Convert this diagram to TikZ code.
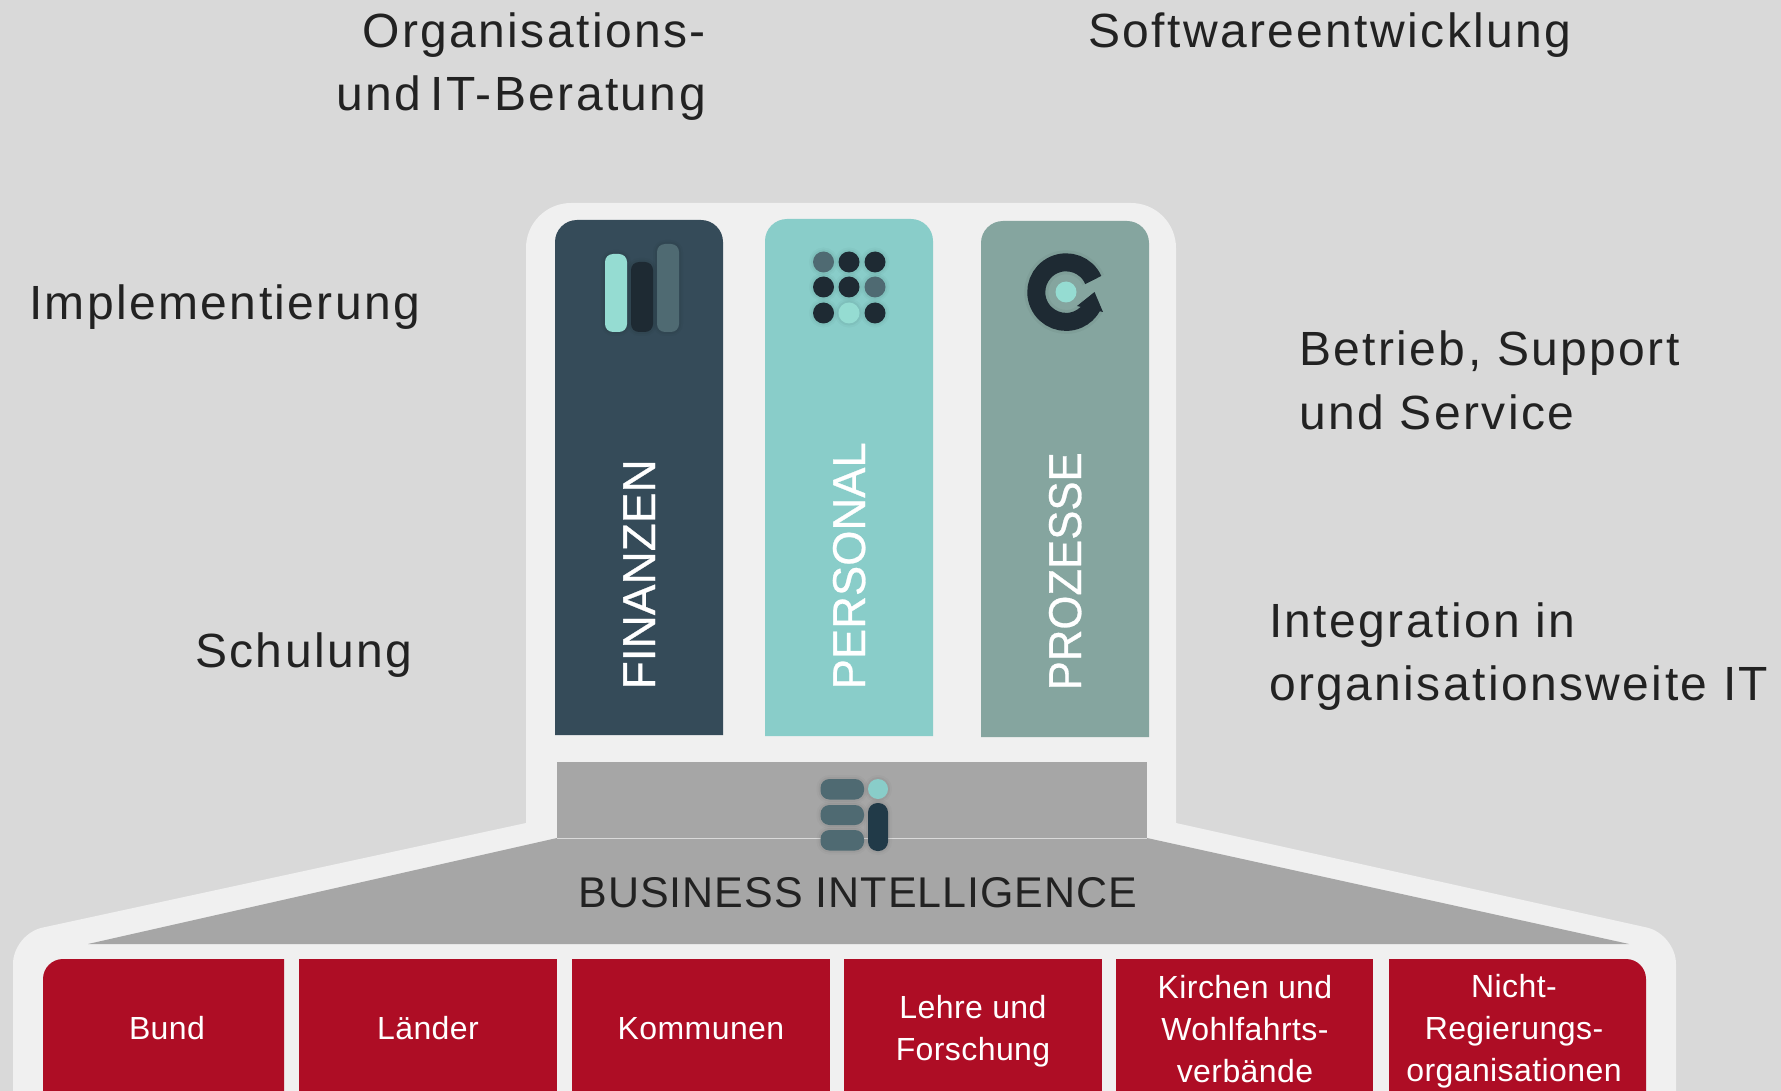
\documentclass[tikz,border=0pt]{standalone}
\usepackage{fontspec}
\setmainfont{Liberation Sans}
\newfontfamily\lblfont[LetterSpace=5]{Liberation Sans}
\newfontfamily\boxfont[LetterSpace=1.3]{Liberation Sans}
\newfontfamily\bifont[LetterSpace=2.3]{Liberation Sans}
\newfontfamily\colfont[FakeBold=0.6]{Liberation Sans}
\definecolor{bgc}{HTML}{D9D9D9}
\definecolor{panelc}{HTML}{F0F0F0}
\definecolor{greyc}{HTML}{A6A6A6}
\definecolor{redc}{HTML}{AE0D25}
\definecolor{finc}{HTML}{354B59}
\definecolor{perc}{HTML}{89CDC9}
\definecolor{proc}{HTML}{85A59F}
\definecolor{mintc}{HTML}{95DCD2}
\definecolor{darkc}{HTML}{1E2A33}
\definecolor{midc}{HTML}{4F6A72}
\definecolor{navyc}{HTML}{213A48}
\definecolor{txtc}{HTML}{222222}
\tikzset{
 lbl/.style={text=txtc,inner sep=0pt,font=\fontsize{48}{63.5}\selectfont\lblfont},
 boxlbl/.style={text=white,inner sep=0pt,align=center,font=\fontsize{32}{42}\selectfont\boxfont},
 collbl/.style={text=white,inner sep=0pt,rotate=90,anchor=base west,font=\fontsize{46}{46}\selectfont\colfont},
 soft/.style={preaction={draw=black,draw opacity=.025,line width=8pt},preaction={draw=black,draw opacity=.04,line width=4pt}},
}
\begin{document}
\begin{tikzpicture}[x=1pt,y=-1pt]
\useasboundingbox (0,0) rectangle (1781,1091);
\fill[bgc] (0,0) rectangle (1781,1091);
% white panel
\fill[panelc] (13,1091) [rounded corners=30pt] -- (13,934) [sharp corners] -- (526,823) [rounded corners=45pt] -- (526,203) -- (1176,203) [sharp corners] -- (1176,823) [rounded corners=30pt] -- (1676,934) [sharp corners] -- (1676,1091) -- cycle;
% grey
\fill[greyc] (557,762) rectangle (1147,838);
\fill[greyc] (557,838) -- (1147,838) -- (1629,944) -- (88,944) -- cycle;
\draw[panelc!70!greyc,line width=.8pt] (557,838) -- (1147,838);
% columns
\fill[finc] (555,735) [rounded corners=22pt] -- (555,220) -- (723,220) [sharp corners] -- (723,735) -- cycle;
\fill[perc] (765,736) [rounded corners=22pt] -- (765,219) -- (933,219) [sharp corners] -- (933,736) -- cycle;
\fill[proc] (981,737) [rounded corners=22pt] -- (981,221) -- (1149,221) [sharp corners] -- (1149,737) -- cycle;
\node[collbl] (fin) at (655,689.5) {\scalebox{1}[1]{FINANZEN}};
\node[collbl] (per) at (865,689.5) {\scalebox{.986}[1]{PERSONAL}};
\node[collbl] (pro) at (1081,690.5) {\scalebox{.95}[1]{PROZESSE}};
% finanzen icon
\fill[midc,soft,rounded corners=8pt] (657,244) rectangle (679,332);
\fill[darkc,soft,rounded corners=8pt] (631,262) rectangle (653,332);
\fill[mintc,soft,rounded corners=8pt] (605,254) rectangle (627,332);
% personal icon
\foreach \x/\y/\c in {823.5/262/midc,849/262/darkc,875/262/darkc,823.5/287/darkc,849/287/darkc,875/287/midc,823.5/313/darkc,849/313/mintc,875/313/darkc}
  \fill[\c,soft] (\x,\y) circle[radius=10.5];
% prozesse icon
\draw[darkc,line width=18pt,preaction={draw=black,draw opacity=.04,line width=24pt}] (1066+27.3,292-12) arc[start angle=-24,end angle=-332,radius=29.8];
\fill[darkc] (1094.5,292) -- (1103,312) -- (1077,306) -- cycle;
\fill[mintc] (1066,292) circle[radius=10.5];
% BI icon
\fill[midc,soft,rounded corners=9pt] (820.5,779) rectangle (864,799.5);
\fill[midc,soft,rounded corners=9pt] (820.5,805) rectangle (864,825);
\fill[midc,soft,rounded corners=9pt] (820.5,830) rectangle (864,850.5);
\fill[perc,soft] (878,789) circle[radius=10];
\fill[navyc,soft,rounded corners=9.5pt] (868,803) rectangle (888,851);
\node[text=txtc,inner sep=0pt,anchor=base,font=\fontsize{43}{43}\selectfont\bifont] (bi) at (858,907) {BUSINESS INTELLIGENCE};
% red boxes
\fill[redc] (284,1091) -- (284,959) [rounded corners=20pt] -- (43,959) [sharp corners] -- (43,1091) -- cycle;
\fill[redc] (299,959) rectangle (557,1091);
\fill[redc] (572,959) rectangle (830,1091);
\fill[redc] (844,959) rectangle (1102,1091);
\fill[redc] (1116,959) rectangle (1373,1091);
\fill[redc] (1389,1091) -- (1389,959) [rounded corners=20pt] -- (1646,959) [sharp corners] -- (1646,1091) -- cycle;
\node[boxlbl] (b1) at (167,1028) {Bund};
\node[boxlbl] (b2) at (428,1028) {Länder};
\node[boxlbl] (b3) at (701,1029) {Kommunen};
\node[boxlbl] (b4) at (973,1031.5) {Lehre und\\Forschung};
\node[boxlbl] (b5) at (1245,1029) {Kirchen und\\Wohlfahrts-\\verbände};
\node[boxlbl] (b6) at (1514,1031.5) {Nicht-\\Regierungs-\\organisationen};
% outer labels
\node[lbl,align=right,anchor=east] (l1) at (706,66.5) {Organisations-\\und\hspace{-6pt} IT-Beratung};
\node[lbl,anchor=west] (l2) at (1088,35) {Softwareentwicklung};
\node[lbl,anchor=west] (l3) at (29,307.5) {Implementierung};
\node[lbl,anchor=west] (l4) at (195,655.5) {Schulung};
\node[lbl,align=left,anchor=west] (l5) at (1299,380.5) {Betrieb, Support\\und Service};
\node[lbl,align=left,anchor=west] (l6) at (1269,656.5) {Integration in\\organisationsweite IT};
\end{tikzpicture}
\end{document}
